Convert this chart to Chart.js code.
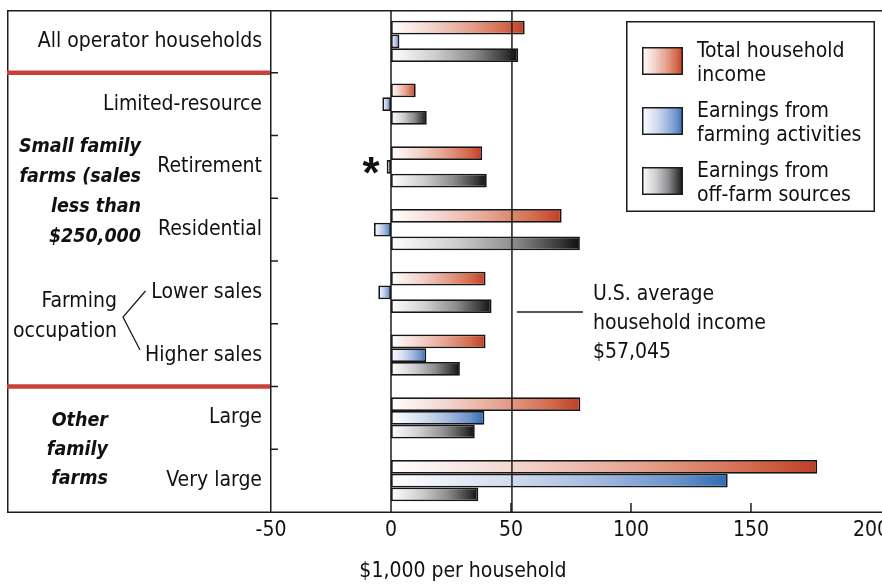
<!DOCTYPE html>
<html><head><meta charset="utf-8">
<script src="https://cdn.jsdelivr.net/npm/chart.js@4/dist/chart.umd.min.js"></script>
<style>html,body{margin:0;padding:0;background:#fff;}#wrap{width:882px;height:584px;}</style>
</head><body><div id="wrap"><canvas id="c" width="882" height="584"></canvas></div>
<script>
// ---------- data ----------
const categories = ['All operator households','Limited-resource','Retirement','Residential','Lower sales','Higher sales','Large','Very large'];
const totalIncome     = [55.7, 10.3, 38.0, 71.1, 39.4, 39.4, 78.9, 177.6];
const farmEarnings    = [3.5, -3.6, -1.8, -7.1, -5.3, 14.7, 38.9, 140.3];
const offFarmEarnings = [53.0, 14.9, 39.9, 78.7, 41.9, 28.7, 34.9, 36.4];
const seriesLabels = [['Total household','income'],['Earnings from','farming activities'],['Earnings from','off-farm sources']];
const xTickValues = [-50, 0, 50, 100, 150, 200];
const xMin = -50, xMax = 204.6;
const usAverageMarker = 50.4;            // where the reference line is drawn
const usAverageText = ['U.S. average','household income','$57,045'];
const axisTitle = '$1,000 per household';
const groupSmall = ['Small family','farms (sales','less than','$250,000'];
const groupFarming = ['Farming','occupation'];
const groupOther = ['Other','family','farms'];

// ---------- style ----------
const FONT = '"DejaVu Sans Condensed","Liberation Sans Narrow",sans-serif';
const FS = 21;
const INK = '#1c1c1c';
const redStops   = [[0,'#ffffff'],[0.3,'#f3d4cd'],[0.6,'#e59f8b'],[0.85,'#d2694b'],[1,'#c13d27']];
const blueStops  = [[0,'#ffffff'],[0.35,'#d3dcef'],[0.6,'#a5bbe0'],[0.85,'#6a92ca'],[1,'#2e6ab2']];
const blackStops = [[0,'#ffffff'],[0.35,'#cdcdd0'],[0.65,'#8c8c8e'],[0.88,'#3e3e3e'],[1,'#0e0e0e']];

function gradFor(stops, fallback){
  return function(c){
    const chart = c.chart;
    if(!chart.chartArea || c.type !== 'data' || !chart.scales.x) return fallback;
    const xs = chart.scales.x, v = c.raw;
    const a = xs.getPixelForValue(Math.min(0, v)), b = xs.getPixelForValue(Math.max(0, v));
    if (Math.abs(b - a) < 0.5) return fallback;
    const g = chart.ctx.createLinearGradient(a, 0, b, 0);
    stops.forEach(s => g.addColorStop(s[0], s[1]));
    return g;
  };
}

const decor = {
  id: 'decor',
  afterDatasetsDraw(chart){
    const ctx = chart.ctx, xs = chart.scales.x, ys = chart.scales.y, a = chart.chartArea;
    const n = categories.length;
    const bound = i => ys.getPixelForValue(i - 0.5);
    ctx.save();
    ctx.strokeStyle = INK; ctx.lineWidth = 1.5; ctx.lineCap = 'butt';
    const line = (x1,y1,x2,y2) => { ctx.beginPath(); ctx.moveTo(x1,y1); ctx.lineTo(x2,y2); ctx.stroke(); };
    // frame
    line(7, a.top + 0.75, chart.width, a.top + 0.75);
    line(7.75, a.top, 7.75, a.bottom + 0.75);
    line(7, a.bottom + 0.25, chart.width, a.bottom + 0.25);
    line(a.left - 0.25, a.top, a.left - 0.25, a.bottom);
    // zero and US average lines
    const x0 = xs.getPixelForValue(0);
    line(x0, a.top, x0, a.bottom);
    const xu = xs.getPixelForValue(usAverageMarker);
    line(xu, a.top, xu, a.bottom);
    // x ticks (inside)
    xTickValues.slice(2, -1).forEach(v => { const x = xs.getPixelForValue(v); line(x, a.bottom - 9, x, a.bottom); });
    // y boundary ticks (inside)
    for (let i = 1; i < n; i++) { const y = bound(i); line(a.left, y, a.left + 7, y); }
    // red separators
    ctx.strokeStyle = '#c9403a'; ctx.lineWidth = 4.5;
    [1, 6].forEach(i => { const y = bound(i); line(7, y, a.left - 1, y); });
    // group labels
    ctx.fillStyle = '#111'; ctx.textBaseline = 'middle';
    ctx.font = 'italic bold 19.5px ' + FONT; ctx.textAlign = 'right';
    groupSmall.forEach((t,i) => ctx.fillText(t, 141, 147 + i*30));
    groupOther.forEach((t,i) => ctx.fillText(t, 108, 421 + i*29));
    ctx.font = FS + 'px ' + FONT;
    groupFarming.forEach((t,i) => ctx.fillText(t, 117, 302 + i*30));
    // bracket
    ctx.strokeStyle = INK; ctx.lineWidth = 1.3;
    ctx.beginPath(); ctx.moveTo(145.5, 291); ctx.lineTo(123, 317); ctx.lineTo(140, 350); ctx.stroke();
    // asterisk
    ctx.font = 'bold 44px "Liberation Sans",Arial,sans-serif'; ctx.textAlign = 'center'; ctx.textBaseline = 'alphabetic';
    const m = ctx.measureText('*');
    const cy = ys.getPixelForValue(2) - 1.5;
    ctx.fillText('*', x0 - 20, cy + (m.actualBoundingBoxAscent - m.actualBoundingBoxDescent)/2);
    // US average annotation
    ctx.lineWidth = 1.3;
    line(xu + 5, 312, xu + 71, 312);
    ctx.font = FS + 'px ' + FONT; ctx.textAlign = 'left'; ctx.textBaseline = 'middle';
    usAverageText.forEach((t,i) => ctx.fillText(t, xu + 81, 295 + i*29));
    // axis title
    ctx.textAlign = 'center';
    ctx.fillText(axisTitle, xs.getPixelForValue(30), 572);
    // legend
    ctx.fillStyle = '#fff'; ctx.fillRect(626, 21, 248, 190);
    ctx.lineWidth = 1.5; ctx.strokeStyle = INK; ctx.strokeRect(626.75, 21.75, 247.5, 189.5);
    const stopsList = [redStops, blueStops, blackStops];
    chart.data.datasets.forEach((ds, i) => {
      const sy = 47 + i*60;
      const g = ctx.createLinearGradient(642, 0, 683, 0);
      stopsList[i].forEach(s => g.addColorStop(s[0], s[1]));
      ctx.fillStyle = g; ctx.fillRect(642, sy, 41, 28);
      ctx.strokeRect(642.75, sy + 0.75, 39.5, 26.5);
      ctx.fillStyle = '#111'; ctx.textAlign = 'left'; ctx.textBaseline = 'alphabetic';
      ds.label.forEach((t, j) => ctx.fillText(t, 697, sy + 9.7 + j*24.3));
    });
    ctx.restore();
  }
};

const mkDs = (label, data, stops, solid) => ({
  label, data,
  backgroundColor: gradFor(stops, solid),
  borderColor: '#161616', borderWidth: 1.8, borderSkipped: false,
  categoryPercentage: 0.66, barPercentage: 1.0
});

new Chart(document.getElementById('c'), {
  type: 'bar',
  data: {
    labels: categories,
    datasets: [
      mkDs(seriesLabels[0], totalIncome, redStops, '#e29a86'),
      mkDs(seriesLabels[1], farmEarnings, blueStops, '#a9bee1'),
      mkDs(seriesLabels[2], offFarmEarnings, blackStops, '#8a8a8c')
    ]
  },
  options: {
    indexAxis: 'y', responsive: false, animation: false, devicePixelRatio: 1,
    layout: { padding: { top: 10, left: 0, right: 0, bottom: 0 } },
    plugins: { legend: { display: false }, tooltip: { enabled: false } },
    scales: {
      x: {
        type: 'linear', min: xMin, max: xMax,
        grid: { display: false, drawTicks: false }, border: { display: false },
        ticks: { font: { family: FONT, size: FS }, color: '#111', padding: 6, maxRotation: 0, autoSkip: false },
        afterBuildTicks: s => { s.ticks = xTickValues.map(v => ({ value: v })); },
        afterFit: s => { s.height = 72; s.paddingLeft = 0; s.paddingRight = 0; }
      },
      y: {
        type: 'category',
        grid: { display: false, drawTicks: false }, border: { display: false },
        ticks: { font: { family: FONT, size: FS }, color: '#111', padding: 9, autoSkip: false },
        afterFit: s => { s.width = 271; s.paddingTop = 0; s.paddingBottom = 0; }
      }
    }
  },
  plugins: [decor]
});
</script></body></html>
